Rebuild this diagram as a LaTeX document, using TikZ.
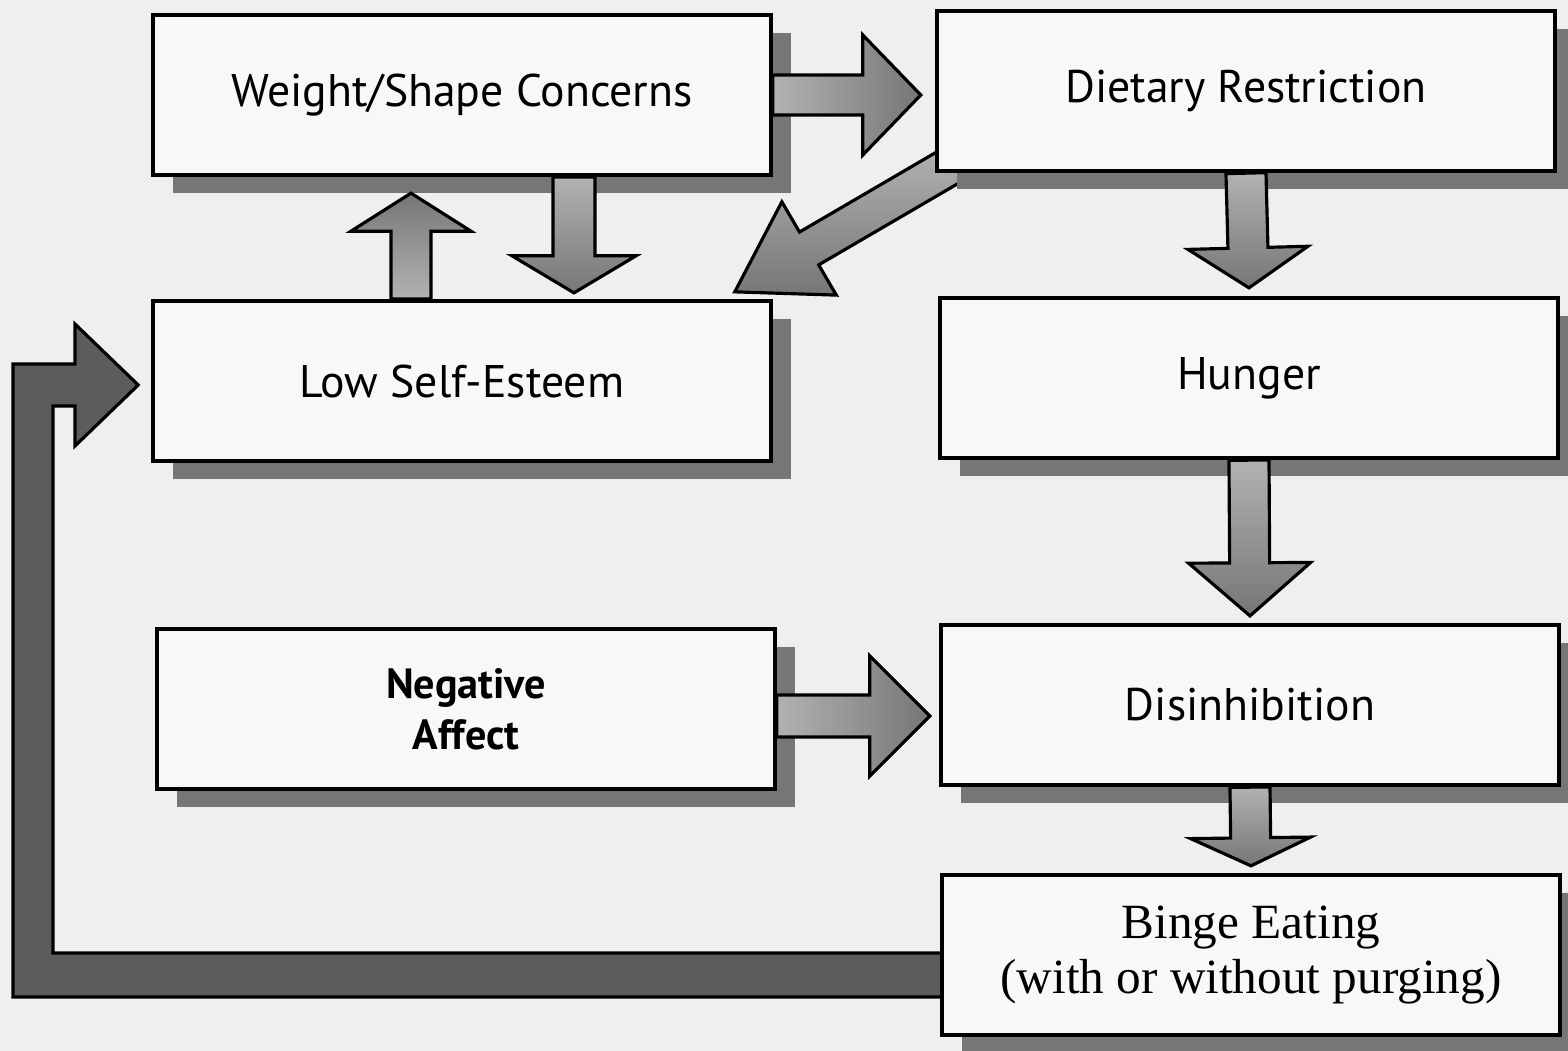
\documentclass[tikz,border=0pt]{standalone}
\usepackage{fontspec}
\setmainfont{Liberation Serif}
\newfontfamily\labelfont{PT Sans}
\usetikzlibrary{calc}
\usetikzlibrary{shadows}
\definecolor{scan-paper}{RGB}{239, 239, 239}
\definecolor{scan-box}{RGB}{248, 248, 248}
\definecolor{scan-light}{RGB}{178, 178, 178}
\definecolor{scan-mid}{RGB}{118, 118, 118}
\definecolor{scan-dark}{RGB}{92, 92, 92}
\pgfdeclarelayer{paper}
\pgfdeclarelayer{under}
\pgfsetlayers{paper,under,main}

% block arrow: [style]{tail}{tip}{shaft half width}{head half width}{head length}
\newcommand{\fatarrow}[6][]{%
  \coordinate (headbase) at ($(#3)!#6!(#2)$);
  \draw[fatline, #1] ($(#2)!#4!90:(#3)$) -- ($(headbase)!#4!90:(#3)$)
    -- ($(headbase)!#5!90:(#3)$) -- (#3) -- ($(headbase)!#5!-90:(#3)$)
    -- ($(headbase)!#4!-90:(#3)$) -- ($(#2)!#4!-90:(#3)$) -- cycle;}

\tikzset{
  box/.style={draw, line width=1.2pt, fill=scan-box, minimum width=6.17cm,
    minimum height=1.6cm, inner sep=0pt, align=center,
    drop shadow={shadow xshift=0.2cm, shadow yshift=-0.18cm, fill=scan-mid, opacity=1}},
  boxtext/.style={font=\labelfont\fontsize{13}{16}\selectfont},
  fatline/.style={draw=black, line width=0.9pt, line join=miter},
  godown/.style={top color=scan-light, bottom color=scan-mid},
  goup/.style={top color=scan-mid, bottom color=scan-light},
  goright/.style={left color=scan-light, right color=scan-mid},
}

\begin{document}
\begin{tikzpicture}[x=0.01cm, y=-0.01cm]
  \begin{pgfonlayer}{paper}
    \fill[scan-paper] (0,0) rectangle (1568,1051);
  \end{pgfonlayer}
  \useasboundingbox (0,0) rectangle (1568,1051);

  % boxes
  \node[box, boxtext] (ws) at (462,95) {Weight/Shape Concerns};
  \node[box, boxtext] (dr) at (1246,91) {Dietary Restriction};
  \node[box, boxtext] (lse) at (462,381) {Low Self-Esteem};
  \node[box, boxtext] (hu) at (1249,378) {Hunger};
  \node[box, font=\labelfont\bfseries\fontsize{12}{14.5}\selectfont] (na) at (466,709) {Negative\\Affect};
  \node[box, boxtext] (dis) at (1250,705) {Disinhibition};
  \node[box, font=\fontsize{14}{15.6}\selectfont] (be) at (1251,955) {Binge Eating\\(with or without purging)};

  % arrows under the boxes
  \begin{pgfonlayer}{under}
    \coordinate (dtail) at ($(dr.south west)+(20,-10)$);
    \coordinate (dtip) at ($(lse.north east)+(-38,-7)$);
    \fatarrow[godown]{dtail}{dtip}{0.19cm}{0.54cm}{0.86cm}
    \coordinate (looptip) at ($(lse.west)+(-13,4)$);
    \draw[fatline, fill=scan-dark] ($(be.west)+(10,-2)$) -- (53,953) -- (53,406)
      -- (75,406) -- (75,446) -- (looptip) -- (75,324) -- (75,364) -- (13,364)
      -- (13,997) -- ($(be.west)+(10,42)$) -- cycle;
  \end{pgfonlayer}

  % arrows over the shadows
  \coordinate (t1) at ($(ws.east)+(148,0)$);
  \fatarrow[goright]{ws.east}{t1}{0.2cm}{0.6cm}{0.58cm}
  \coordinate (s2) at ($(ws.south)+(112,0)$);
  \coordinate (t2) at ($(lse.north)+(112,-6)$);
  \fatarrow[godown]{s2}{t2}{0.21cm}{0.62cm}{0.37cm}
  \coordinate (s3) at ($(lse.north)+(-51,0)$);
  \coordinate (t3) at ($(ws.south)+(-51,16)$);
  \fatarrow[goup]{s3}{t3}{0.2cm}{0.6cm}{0.38cm}
  \coordinate (t5) at ($(hu.north)+(0,-8)$);
  \fatarrow[godown]{dr.south}{t5}{0.2cm}{0.6cm}{0.4cm}
  \coordinate (t6) at ($(dis.north)+(0,-7)$);
  \fatarrow[godown]{hu.south}{t6}{0.2cm}{0.61cm}{0.53cm}
  \coordinate (s7) at ($(na.east)+(0,7)$);
  \coordinate (t7) at ($(na.east)+(153,7)$);
  \fatarrow[goright]{s7}{t7}{0.21cm}{0.6cm}{0.6cm}
  \coordinate (t8) at ($(be.north)+(0,-7)$);
  \fatarrow[godown]{dis.south}{t8}{0.2cm}{0.6cm}{0.28cm}
\end{tikzpicture}
\end{document}
